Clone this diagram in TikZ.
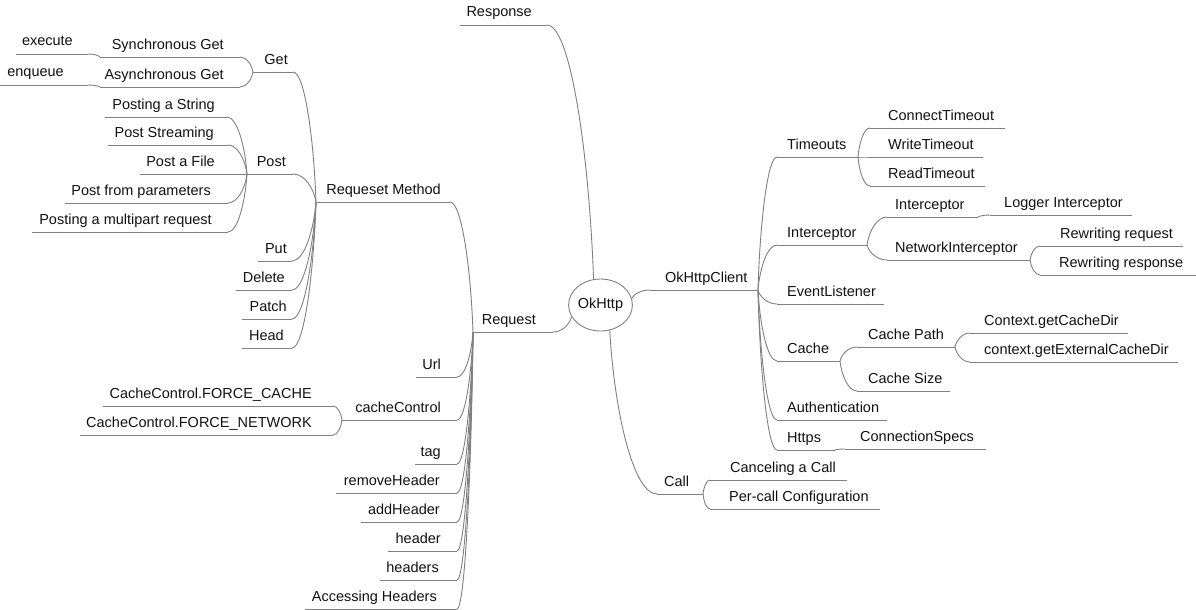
\documentclass[tikz,border=0pt]{standalone}
\usepackage{fontspec}
\setmainfont{Liberation Sans}
\usetikzlibrary{calc,shapes.geometric}
\definecolor{wire}{HTML}{808080}
\definecolor{ink}{HTML}{111111}
\tikzset{
  branch/.style={draw=wire, line width=0.9pt},
  topictext/.style={inner sep=0pt, text=ink, font=\fontsize{14.5}{17}\selectfont},
  % curved connector: leaves the parent steeply, reaches the child level
  link/.style={branch, to path={let \p1=(\tikztostart), \p2=(\tikztotarget) in
      .. controls ({\x1+0.1*(\x2-\x1)},{\y1+0.5*(\y2-\y1)}) and ({0.5*(\x1+\x2)},\y2) .. (\tikztotarget)}},
  hub/.style={ellipse, draw=wire, line width=0.9pt, minimum width=63pt, minimum height=52pt,
      inner sep=0pt, text=ink, font=\fontsize{14.5}{17}\selectfont}
}
% topic on the right of its parent: name, line start, line end, line y, text left edge, text
\newcommand\topicR[6]{%
  \coordinate (#1-l) at (#2,#4);
  \coordinate (#1-r) at (#3,#4);
  \node[topictext, anchor=base west] (#1) at (#5,#4-8) {#6};
  \draw[branch] (#1-l) -- (#1-r);
}
% topic on the left of its parent: name, line start, line end, line y, text right edge, text
\newcommand\topicL[6]{%
  \coordinate (#1-l) at (#2,#4);
  \coordinate (#1-r) at (#3,#4);
  \node[topictext, anchor=base east] (#1) at (#5,#4-8) {#6};
  \draw[branch] (#1-l) -- (#1-r);
}
\begin{document}
\begin{tikzpicture}[x=1pt,y=-1pt]
\useasboundingbox (0,0) rectangle (1196,610);

\node[hub] (okhttp) at (600.5,305) {OkHttp};

% ---- Response
\topicL{response}{460}{547}{25}{532}{Response}

% ---- Request
\topicL{request}{473}{553}{332}{536}{Request}
\topicL{reqmethod}{316}{450}{202}{441}{Requeset Method}
\topicL{get}{253}{293}{72}{288}{Get}
\topicL{syncget}{100}{240}{57}{224}{Synchronous Get}
\topicL{asyncget}{100}{240}{87}{224}{Asynchronous Get}
\topicL{execute}{16}{88}{54}{73}{execute}
\topicL{enqueue}{0}{88}{85}{64}{enqueue}
\topicL{post}{247}{293}{174}{286}{Post}
\topicL{poststring}{105}{227}{117}{215}{Posting a String}
\topicL{poststream}{108}{228}{145}{214}{Post Streaming}
\topicL{postfile}{140}{247}{174}{215}{Post a File}
\topicL{postparams}{65}{228}{203}{211}{Post from parameters}
\topicL{postmulti}{32}{228}{232}{212}{Posting a multipart request}
\topicL{put}{258}{292}{261}{287}{Put}
\topicL{delete}{236}{292}{290}{285}{Delete}
\topicL{patch}{242}{292}{319}{287}{Patch}
\topicL{head}{242}{292}{348}{284}{Head}
\topicL{url}{416}{457}{377}{441}{Url}
\topicL{cachecontrol}{342}{457}{420}{441}{cacheControl}
\topicL{forcecache}{103}{333}{406}{312}{CacheControl.FORCE\_CACHE}
\topicL{forcenet}{80}{333}{435}{312}{CacheControl.FORCE\_NETWORK}
\topicL{tag}{415}{457}{464}{441}{tag}
\topicL{removeheader}{336}{457}{493}{440}{removeHeader}
\topicL{addheader}{361}{457}{522}{440}{addHeader}
\topicL{header}{388}{457}{551}{441}{header}
\topicL{headers}{380}{457}{580}{439}{headers}
\topicL{accessing}{305}{457}{609}{437}{Accessing Headers}

% ---- OkHttpClient
\topicR{okclient}{650}{758}{290}{665}{OkHttpClient}
\topicR{timeouts}{777}{858}{157}{787}{Timeouts}
\topicR{connect}{870}{1005}{128}{888}{ConnectTimeout}
\topicR{write}{870}{983}{157}{888}{WriteTimeout}
\topicR{read}{870}{985}{186}{888}{ReadTimeout}
\topicR{intercept}{777}{867}{245}{787}{Interceptor}
\topicR{appint}{887}{978}{217}{895}{Interceptor}
\topicR{logger}{990}{1132}{215}{1004}{Logger Interceptor}
\topicR{netint}{887}{1030}{260}{895}{NetworkInterceptor}
\topicR{rwreq}{1040}{1183}{246}{1060}{Rewriting request}
\topicR{rwresp}{1040}{1196}{275}{1059}{Rewriting response}
\topicR{events}{777}{884}{304}{787}{EventListener}
\topicR{cache}{777}{840}{361}{787}{Cache}
\topicR{cachepath}{857}{955}{347}{868}{Cache Path}
\topicR{getcache}{970}{1128}{333}{984}{Context.getCacheDir}
\topicR{getext}{970}{1178}{362}{984}{context.getExternalCacheDir}
\topicR{cachesize}{857}{950}{391}{868}{Cache Size}
\topicR{auth}{777}{887}{420}{787}{Authentication}
\topicR{https}{777}{835}{450}{787}{Https}
\topicR{connspec}{845}{986}{449}{860}{ConnectionSpecs}

% ---- Call
\topicR{call}{657}{703}{494}{664}{Call}
\topicR{cancel}{710}{847}{480}{730}{Canceling a Call}
\topicR{percall}{710}{880}{509}{729}{Per-call Configuration}

% ---- connectors from the hub
\draw[link] (okhttp.105) to (response-r);
\draw[link] (okhttp.202) to (request-r);
\draw[link] (okhttp.12) to (okclient-l);
\draw[link] (okhttp.290) to (call-l);

% ---- Request branch
\foreach \c in {reqmethod,url,cachecontrol,tag,removeheader,addheader,header,headers,accessing}
  \draw[link] (request-l) to (\c-r);
\foreach \c in {get,post,put,delete,patch,head}
  \draw[link] (reqmethod-l) to (\c-r);
\foreach \c in {syncget,asyncget}
  \draw[link] (get-l) to (\c-r);
\draw[link] (syncget-l) to (execute-r);
\draw[link] (asyncget-l) to (enqueue-r);
\foreach \c in {poststring,poststream,postfile,postparams,postmulti}
  \draw[link] (post-l) to (\c-r);
\foreach \c in {forcecache,forcenet}
  \draw[link] (cachecontrol-l) to (\c-r);

% ---- OkHttpClient branch
\foreach \c in {timeouts,intercept,events,cache,auth,https}
  \draw[link] (okclient-r) to (\c-l);
\foreach \c in {connect,write,read}
  \draw[link] (timeouts-r) to (\c-l);
\foreach \c in {appint,netint}
  \draw[link] (intercept-r) to (\c-l);
\draw[link] (appint-r) to (logger-l);
\foreach \c in {rwreq,rwresp}
  \draw[link] (netint-r) to (\c-l);
\foreach \c in {cachepath,cachesize}
  \draw[link] (cache-r) to (\c-l);
\foreach \c in {getcache,getext}
  \draw[link] (cachepath-r) to (\c-l);
\draw[link] (https-r) to (connspec-l);

% ---- Call branch
\foreach \c in {cancel,percall}
  \draw[link] (call-r) to (\c-l);
\end{tikzpicture}
\end{document}
